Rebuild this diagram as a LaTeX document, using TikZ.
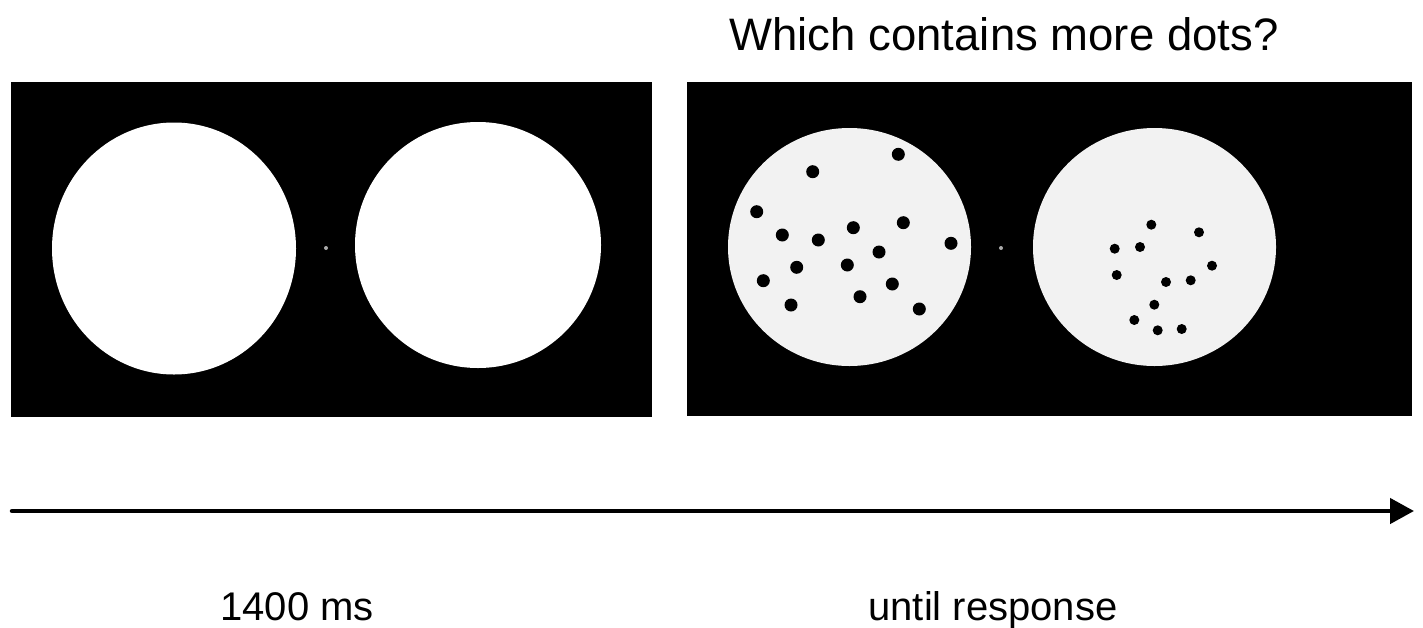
\documentclass[tikz,border=0pt]{standalone}
\usepackage{fontspec}
\setmainfont{Liberation Sans}
\usetikzlibrary{arrows.meta}
\definecolor{discgray}{RGB}{242,242,242}
\definecolor{fixgray}{RGB}{170,170,170}
\begin{document}
\begin{tikzpicture}[x=1pt,y=-1pt,
  panel/.style={fill=black},
  whitedisc/.style={fill=white},
  graydisc/.style={fill=discgray},
  fixdot/.style={fill=fixgray},
  bigdot/.style={fill=black},
  title/.style={font=\fontsize{45.5}{52}\selectfont, anchor=base, inner sep=0pt},
  lbl/.style={font=\fontsize{40}{46}\selectfont, anchor=base, inner sep=0pt},
  timeline/.style={line width=4.5pt, line cap=round, -{Triangle[length=24pt,width=25pt]}}]
\useasboundingbox (0,0) rectangle (1423,627);
% question
\node[title] (question) at (1004,50) {Which contains more dots?};
% left panel
\fill[panel] (11,82) rectangle (652,417);
\fill[whitedisc] (174,248.5) ellipse [x radius=122pt, y radius=126pt];
\fill[whitedisc] (478,245) ellipse [x radius=123pt, y radius=123pt];
\fill[fixdot] (326,248) circle [radius=2pt];
% right panel
\fill[panel] (687,82) rectangle (1412,416);
\fill[graydisc] (849.5,247) ellipse [x radius=121.5pt, y radius=119pt];
\fill[graydisc] (1154.5,247) ellipse [x radius=121.5pt, y radius=119pt];
\fill[fixdot] (1001,248) circle [radius=2pt];
% dots, left stimulus
\foreach \px/\py in {812.7/171.7, 898.3/154.3, 756.7/211.7, 782.3/235, 818.3/240,
  853.3/227.7, 903.3/222.7, 951/243.3, 879/252, 796.7/267.3, 847.3/265,
  763.3/280.7, 892.3/284, 860/296.7, 791/305, 919.3/309}
  \fill[bigdot] (\px,\py) circle [radius=6.5pt];
% dots, right stimulus
\foreach \px/\py in {1151.3/224.7, 1199/232.3, 1114.7/248.7, 1140/247, 1212/265.7,
  1116.7/275, 1166/282, 1190.7/280.3, 1154.3/304.7, 1134.3/320, 1157.7/330.3, 1181.7/329}
  \fill[bigdot] (\px,\py) circle [radius=5pt];
% time axis
\coordinate (tstart) at (12,511);
\coordinate (tend) at (1414,511);
\draw[timeline] (tstart) -- (tend);
% labels
\node[lbl] (first) at (297,620) {1400 ms};
\node[lbl] (second) at (993,620) {until response};
\end{tikzpicture}
\end{document}
